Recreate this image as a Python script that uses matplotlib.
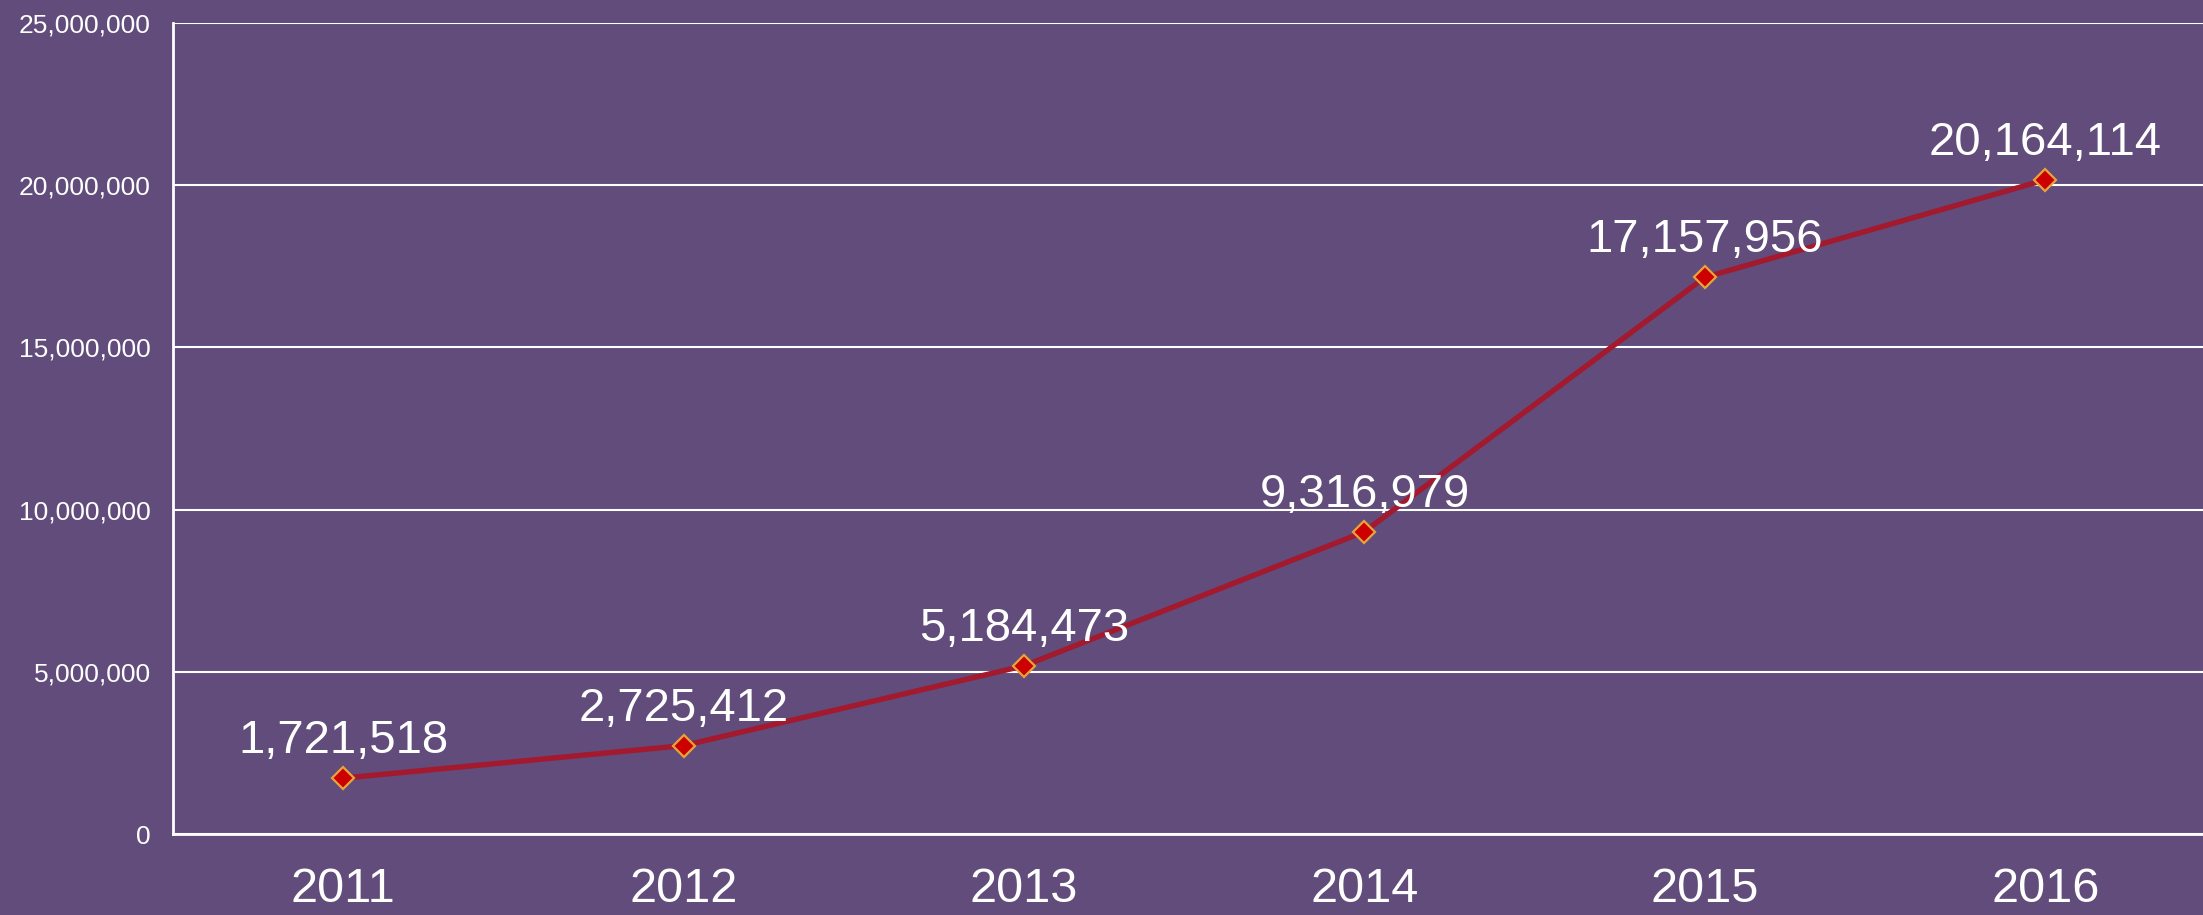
import matplotlib.pyplot as plt
from matplotlib.ticker import FuncFormatter

plt.rcParams['font.family'] = ['Liberation Sans', 'DejaVu Sans']

years = ['2011', '2012', '2013', '2014', '2015', '2016']
values = [1721518, 2725412, 5184473, 9316979, 17157956, 20164114]

bg = '#614C7B'

fig = plt.figure(figsize=(22.03, 9.15), dpi=100, facecolor=bg)
ax = fig.add_axes([173 / 2203, 81 / 915, 6 * 340.4 / 2203, 811 / 915])
ax.set_facecolor(bg)

x = list(range(len(years)))
ax.plot(x, values, color='#A31A2E', linewidth=3.9, marker='D', markersize=11,
        markerfacecolor='#CC0000', markeredgecolor='#E8A33A', markeredgewidth=1.6,
        zorder=3)

# etykiety wartosci nad punktami
for xi, v in zip(x, values):
    ax.annotate(f'{v:,}', (xi, v), xytext=(0, 18), textcoords='offset points',
                ha='center', va='baseline', fontsize=34, color='white', zorder=4)

ax.set_xlim(-0.5, 5.5)
ax.set_ylim(0, 25000000)
ax.set_yticks(range(0, 25000001, 5000000))
ax.yaxis.set_major_formatter(FuncFormatter(lambda v, p: f'{int(v):,}'))
ax.set_xticks(x)
ax.set_xticklabels(years)

ax.grid(axis='y', color='white', linewidth=1.5)
ax.set_axisbelow(True)
for s in ['top', 'right']:
    ax.spines[s].set_visible(False)
for s in ['left', 'bottom']:
    ax.spines[s].set_color('white')
    ax.spines[s].set_linewidth(2)

ax.tick_params(axis='y', length=0, pad=16, labelsize=19, labelcolor='white')
ax.tick_params(axis='x', length=0, pad=24, labelsize=35, labelcolor='white')

fig.savefig('out.png', dpi=100, facecolor=bg)
